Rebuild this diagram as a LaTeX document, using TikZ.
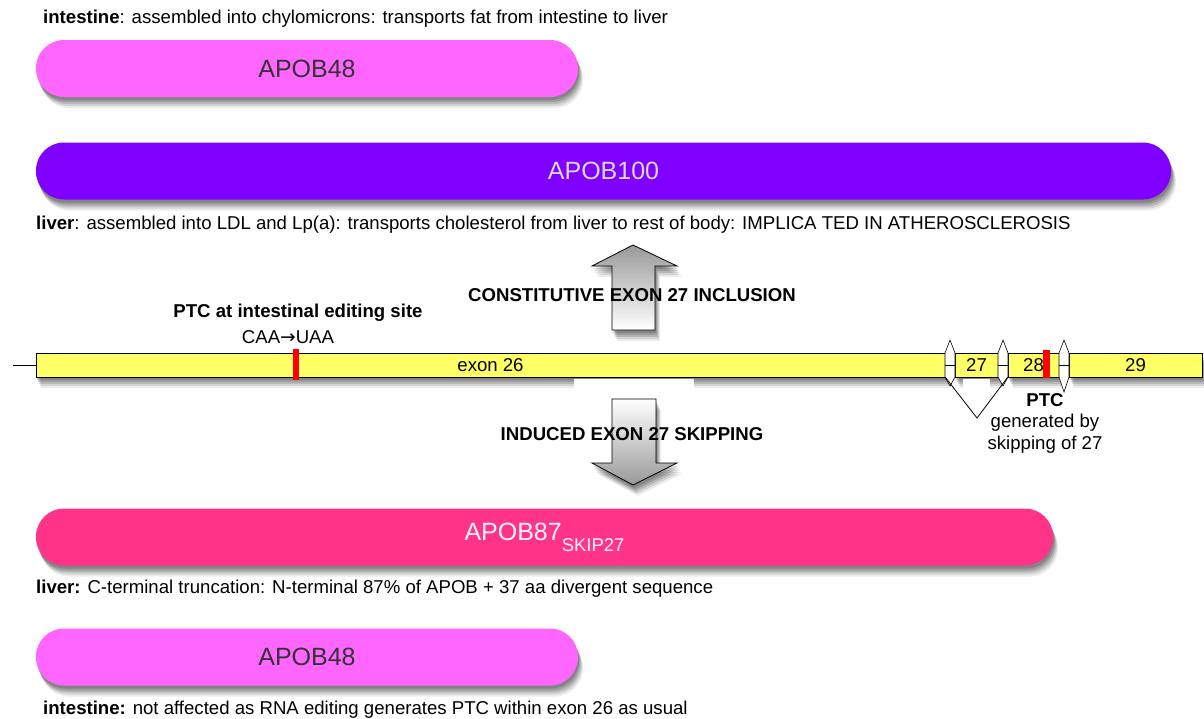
\documentclass[tikz,border=0pt]{standalone}
\usepackage{fontspec}
\setmainfont{Liberation Sans}
\newfontfamily\arrowfont{DejaVu Sans}
\definecolor{apobA}{HTML}{FF66FF}
\definecolor{apobB}{HTML}{8000FF}
\definecolor{apobC}{HTML}{FF3388}
\definecolor{exonY}{HTML}{FFFF66}
\definecolor{ptcred}{HTML}{FF0000}
\begin{document}
\begin{tikzpicture}[x=1pt,y=-1pt,
  softshadow/.style={
    preaction={draw=none,fill=black,fill opacity=0.15,transform canvas={xshift=1pt,yshift=-3pt}},
    preaction={draw=none,fill=black,fill opacity=0.15,transform canvas={xshift=2pt,yshift=-5pt}},
    preaction={draw=none,fill=black,fill opacity=0.13,transform canvas={xshift=3pt,yshift=-7pt}},
    preaction={draw=none,fill=black,fill opacity=0.10,transform canvas={xshift=4pt,yshift=-9pt}},
    preaction={draw=none,fill=black,fill opacity=0.07,transform canvas={xshift=5pt,yshift=-11pt}}},
  capt/.style={font=\fontsize{18.6}{22}\selectfont, inner sep=0pt, anchor=west},
  lbl/.style={font=\fontsize{18.6}{22}\selectfont, inner sep=0pt},
  boldlbl/.style={font=\fontsize{18.6}{22}\selectfont\bfseries, inner sep=0pt},
  protein/.style={rounded corners=28pt, minimum height=57pt, inner sep=0pt,
    font=\fontsize{25}{28}\selectfont, softshadow},
  exonbox/.style={draw=black, line width=0.9pt, fill=exonY, minimum height=24pt,
    inner sep=0pt, font=\fontsize{18.6}{22}\selectfont, softshadow},
  lens/.style={draw=black, line width=0.6pt, fill=white},
  ptcbar/.style={fill=ptcred, draw=none},
  bigarrow/.style={draw=black, line width=0.8pt, softshadow}
]
\useasboundingbox (0,0) rectangle (1204,718);
\fill[white] (0,0) rectangle (1204,718);

% ---- top APOB48 ----
\node[capt] (c1) at (43,19) {\textbf{intestine}: assembled into chylomicrons: transports fat from intestine to liver};
\node[protein, fill=apobA, minimum width=542pt, text=black!80] (b48a) at (307,68.5) {APOB48};

% ---- APOB100 ----
\node[protein, fill=apobB, minimum width=1135pt, text=black!15] (b100) at (603.5,171) {APOB100};
\node[capt] (c2) at (36,225) {\textbf{liver}: assembled into LDL and Lp(a): transports cholesterol from liver to rest of body: IMPLICA TED IN ATHEROSCLEROSIS};

% ---- gene model ----
\coordinate (lstart) at (13,365);
\node[exonbox, minimum width=909pt] (e26) at (490.5,365) {exon 26};
\node[exonbox, minimum width=43pt] (e27) at (976.5,365) {27};
\node[exonbox, minimum width=51pt] (e28) at (1033.5,365) {28};
\node[exonbox, minimum width=133pt] (e29) at (1135.5,365) {29};
\draw[line width=0.6pt] (lstart) -- (e26.west);

% white gaps covering shadow
\fill[white] (574,378.5) rectangle (694,398);
\fill[white] (963,378.5) rectangle (990,396);

% splice-site lenses
\path[lens] (945,353) -- (950,340) -- (955,353) -- (955,377) -- (950,386) -- (945,377) -- cycle;
\path[lens] (998,353) -- (1003,340) -- (1008,353) -- (1008,377) -- (1003,386) -- (998,377) -- cycle;
\path[lens] (1059,353) -- (1064,340) -- (1069,353) -- (1069,377) -- (1064,392) -- (1059,377) -- cycle;
\draw[line width=0.6pt] (e26.east) -- (e27.west);
\draw[line width=0.6pt] (e27.east) -- (e28.west);
\draw[line width=0.6pt] (e28.east) -- (e29.west);
\coordinate (vbot) at (977,418);
\draw[line width=0.8pt] (e26.south east) -- (vbot) -- (e28.south west);

% PTC marks
\node[ptcbar, minimum width=6pt, minimum height=31pt, inner sep=0pt] (ptc1) at (296,364.5) {};
\node[ptcbar, minimum width=7pt, minimum height=28pt, inner sep=0pt] (ptc2) at (1046,364) {};

\node[boldlbl] (ptclab) at (298,313) {PTC at intestinal editing site};
\node[lbl] (caa) at (288,337) {CAA{\arrowfont →}UAA};
\node[boldlbl] (ptc2lab) at (1045,400) {PTC};
\node[lbl] (gen) at (1045,423) {generated by};
\node[lbl] (skp) at (1045,445) {skipping of 27};

% ---- arrows ----
\path[bigarrow, top color=black!40, bottom color=white]
  (633,245) -- (677,266) -- (655,266) -- (655,330) -- (612,330) -- (612,266) -- (592,266) -- cycle;
\node[boldlbl] (incl) at (632,295) {CONSTITUTIVE EXON 27 INCLUSION};

\path[bigarrow, top color=white, bottom color=black!40]
  (612,399) -- (656,399) -- (656,463) -- (677,463) -- (633,485) -- (592,463) -- (612,463) -- cycle;
\node[boldlbl] (skip) at (632,434) {INDUCED EXON 27 SKIPPING};

% ---- APOB87 ----
\node[protein, fill=apobC, minimum width=1017pt, text=white!95!apobC] (b87) at (544.5,537) {APOB87\raisebox{-0.45em}{\fontsize{18.5}{20}\selectfont SKIP27}};
\node[capt] (c3) at (36,589) {\textbf{liver:} C-terminal truncation: N-terminal 87\% of APOB + 37 aa divergent sequence};

% ---- bottom APOB48 ----
\node[protein, fill=apobA, minimum width=542pt, text=black!80] (b48b) at (307,657) {APOB48};
\node[capt] (c4) at (43,710) {\textbf{intestine:} not affected as RNA editing generates PTC within exon 26 as usual};
\end{tikzpicture}
\end{document}
